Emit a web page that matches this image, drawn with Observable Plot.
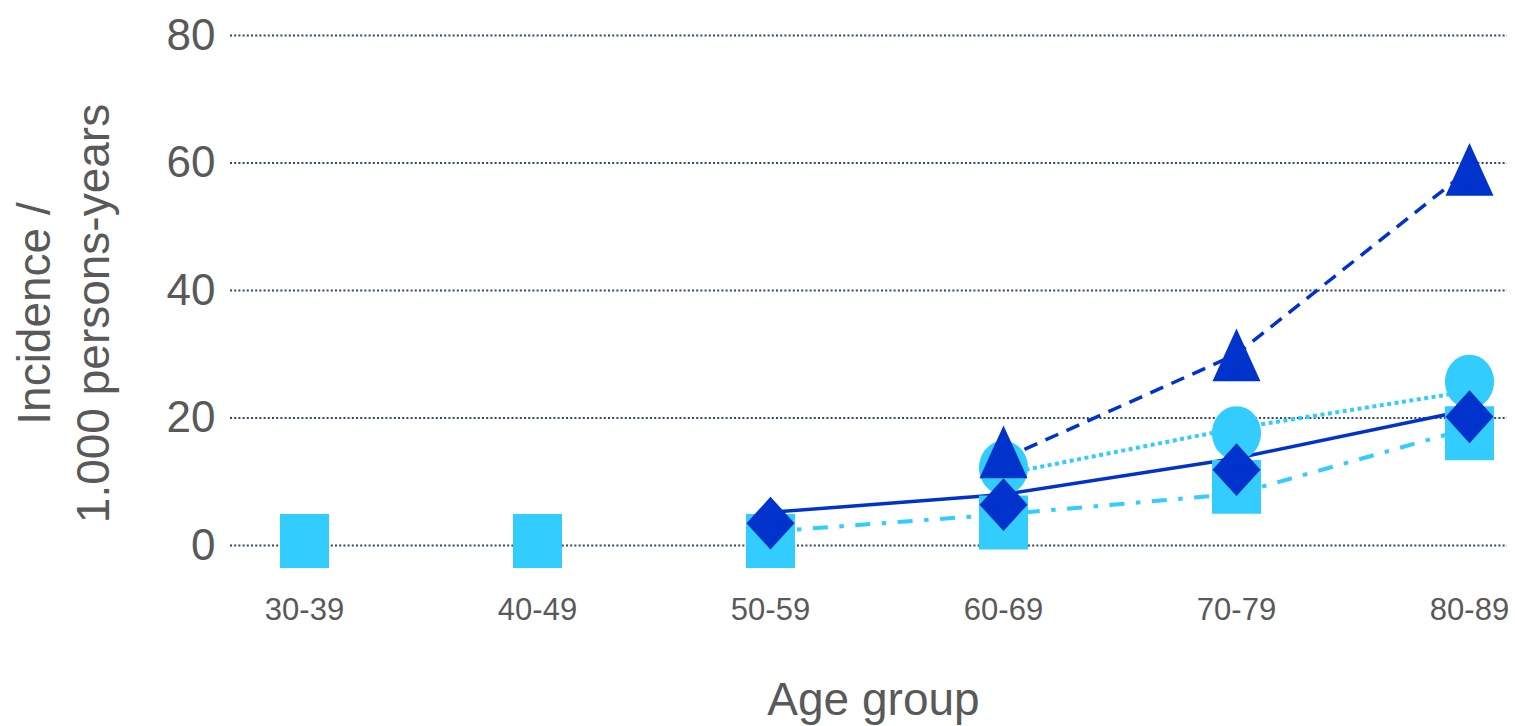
<!DOCTYPE html>
<html>
<head>
<meta charset="utf-8">
<script src="https://cdn.jsdelivr.net/npm/d3@7"></script>
<script src="https://cdn.jsdelivr.net/npm/@observablehq/plot@0.6"></script>
<style>
  html, body { margin: 0; padding: 0; background: #fff; }
  #chart svg { display: block; }
</style>
</head>
<body>
<div id="chart"></div>
<script>
// Age groups on the x axis
const ageGroups = ["30-39", "40-49", "50-59", "60-69", "70-79", "80-89"];
const yTicks = [0, 20, 40, 60, 80];

// Observed incidence per 1.000 persons-years (markers)
const squareValues   = [0.7, 0.7, 0.7, 3.6, 9.2, 17.6];
const circleValues   = [null, null, null, 12.2, 17.6, 25.7];
const triangleValues = [null, null, null, 14.7, 29.9, 59.0];
const diamondValues  = [null, null, 3.5, 6.4, 11.9, 20.2];

// Connecting lines
const solidLine   = [null, null, 5.2, 8.0, 13.7, 21.3];
const dashDotLine = [null, null, 2.2, 4.9, 8.1, 18.4];
const dottedLine  = [null, null, null, 11.2, 18.4, 24.2];
const dashedLine  = [null, null, null, 13.6, 30.0, 59.0];

const lightBlue = "#33CCFF";
const darkBlue = "#0033CC";

const rows = (values) =>
  ageGroups.map((group, i) => ({group, value: values[i]})).filter((d) => d.value != null);

// Slightly tall marker shapes
const ASPECT = 1.1;
function marker(shape) {
  return {
    draw(ctx, size) {
      const w = Math.sqrt(size / Math.PI);
      shape(ctx, w, w * ASPECT);
    }
  };
}
const squareSymbol = marker((c, w, h) => {
  c.moveTo(-w, -h); c.lineTo(w, -h); c.lineTo(w, h); c.lineTo(-w, h); c.closePath();
});
const diamondSymbol = marker((c, w, h) => {
  c.moveTo(0, -h); c.lineTo(w, 0); c.lineTo(0, h); c.lineTo(-w, 0); c.closePath();
});
const triangleSymbol = marker((c, w, h) => {
  c.moveTo(0, -h); c.lineTo(w, h); c.lineTo(-w, h); c.closePath();
});
const ellipseSymbol = marker((c, w, h) => {
  const k = 0.5523;
  c.moveTo(w, 0);
  c.bezierCurveTo(w, k * h, k * w, h, 0, h);
  c.bezierCurveTo(-k * w, h, -w, k * h, -w, 0);
  c.bezierCurveTo(-w, -k * h, -k * w, -h, 0, -h);
  c.bezierCurveTo(k * w, -h, w, -k * h, w, 0);
  c.closePath();
});

const lineOpts = (stroke, dash, width) => ({
  x: "group", y: "value", stroke, strokeWidth: width, strokeDasharray: dash, strokeLinecap: "butt"
});
const dotOpts = (symbol, fill, r) => ({x: "group", y: "value", symbol, fill, stroke: "none", r});

const chart = Plot.plot({
  width: 1515,
  height: 726,
  marginLeft: 230,
  marginRight: 8,
  marginTop: 35,
  marginBottom: 181,
  style: {fontFamily: "'Liberation Sans', Arial, sans-serif", color: "#595959", background: "white"},
  x: {type: "point", domain: ageGroups, range: [302.5, 1471], padding: 0},
  y: {domain: [0, 80]},
  marks: [
    Plot.ruleY(yTicks, {stroke: "#2f4a62", strokeWidth: 2, strokeDasharray: "2 2.2"}),
    Plot.axisY(yTicks, {tickSize: 0, tickPadding: 15, fontSize: 44, label: null}),
    Plot.axisX(ageGroups, {tickSize: 0, tickPadding: 52, fontSize: 31, label: null}),

    Plot.line(rows(dashDotLine), lineOpts(lightBlue, "15 11.5 4.5 11.5", 4)),
    Plot.line(rows(dottedLine), lineOpts(lightBlue, "4 3.5", 4)),
    Plot.line(rows(solidLine), lineOpts(darkBlue, null, 3.5)),
    Plot.line(rows(dashedLine), lineOpts(darkBlue, "14 9", 3.5)),

    Plot.dot(rows(squareValues), dotOpts(squareSymbol, lightBlue, 24.5)),
    Plot.dot(rows(circleValues), dotOpts(ellipseSymbol, lightBlue, 24.5)),
    Plot.dot(rows(triangleValues), dotOpts(triangleSymbol, darkBlue, 24)),
    Plot.dot(rows(diamondValues), dotOpts(diamondSymbol, darkBlue, 24)),

    Plot.text(["Age group"], {frameAnchor: "bottom", dx: 4.5, dy: 169, fontSize: 46, fill: "#595959"}),
    Plot.text(["Incidence /\n1.000 persons-years"], {
      frameAnchor: "left", textAnchor: "middle", lineAnchor: "middle", rotate: -90, dx: -170, dy: 23,
      fontSize: 46, lineHeight: 1.28, fill: "#595959"
    })
  ]
});

document.getElementById("chart").append(chart);
</script>
</body>
</html>
